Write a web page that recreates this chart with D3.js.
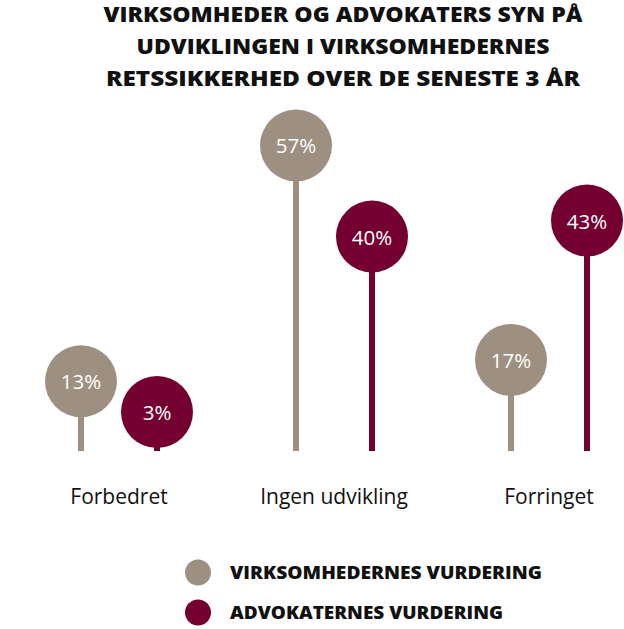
<!DOCTYPE html>
<html>
<head>
<meta charset="utf-8">
<script src="https://cdn.jsdelivr.net/npm/d3@7"></script>
<style>
  html, body { margin: 0; padding: 0; background: #fff; }
  svg { display: block; }
</style>
</head>
<body>
<script>
// ---- data ----
const titleLines = [
  "VIRKSOMHEDER OG ADVOKATERS SYN PÅ",
  "UDVIKLINGEN I VIRKSOMHEDERNES",
  "RETSSIKKERHED OVER DE SENESTE 3 ÅR"
];
const categories = ["Forbedret", "Ingen udvikling", "Forringet"];
const seriesNames = ["VIRKSOMHEDERNES VURDERING", "ADVOKATERNES VURDERING"];
const virksomheder = [13, 57, 17];
const advokater = [3, 40, 43];

// ---- layout ----
const W = 624, H = 629;
const colors = ["#9d9080", "#730030"];
const baseline = 451;
const R = 36;
const font = "'Open Sans', 'Noto Sans', sans-serif";

const svg = d3.select("body").append("svg").attr("width", W).attr("height", H);

// title
const titleWidths = [479, 413, 474];
const title = svg.append("g");
titleLines.forEach((t, i) => {
  title.append("text")
    .attr("x", 343).attr("y", 22 + i * 32)
    .attr("text-anchor", "middle")
    .attr("font-family", font)
    .attr("font-weight", 800)
    .attr("font-size", 21.5)
    .attr("textLength", titleWidths[i])
    .attr("lengthAdjust", "spacingAndGlyphs")
    .attr("fill", "#111")
    .text(t);
});

const x = d3.scaleBand().domain(categories).range([11.5, 656.5]).padding(0);
const sub = d3.scaleBand().domain(seriesNames).range([-76, 76]).padding(0);
const y = d3.scaleLinear().domain([0, 60]).range([baseline, baseline - 5.36 * 60]);

const data = [];
categories.forEach((c, i) => {
  data.push({ cat: c, s: 0, v: virksomheder[i] });
  data.push({ cat: c, s: 1, v: advokater[i] });
});
const cx = d => x(d.cat) + x.bandwidth() / 2 + sub(seriesNames[d.s]) + sub.bandwidth() / 2;
const cy = d => Math.min(y(d.v), baseline - R - 3);

const g = svg.append("g");
// stems
g.selectAll("rect.stem").data(data).join("rect")
  .attr("class", "stem")
  .attr("x", d => cx(d) - 3)
  .attr("width", 6)
  .attr("y", d => cy(d))
  .attr("height", d => baseline - cy(d))
  .attr("fill", d => colors[d.s]);
// circles
g.selectAll("circle.dot").data(data).join("circle")
  .attr("class", "dot")
  .attr("cx", cx).attr("cy", cy).attr("r", R)
  .attr("fill", d => colors[d.s]);
// value labels
g.selectAll("text.val").data(data).join("text")
  .attr("class", "val")
  .attr("x", cx).attr("y", d => cy(d) + 8)
  .attr("text-anchor", "middle")
  .attr("font-family", font)
  .attr("font-size", 20.5)
  .attr("fill", "#fff")
  .text(d => d.v + "%");

// category axis labels
const xAxis = d3.axisBottom(x).tickSize(0).tickPadding(0);
const ax = svg.append("g").attr("transform", `translate(0,${baseline})`).call(xAxis);
ax.select(".domain").remove();
ax.selectAll("text")
  .attr("y", 53)
  .attr("dy", null)
  .attr("font-family", font)
  .attr("font-size", 21)
  .attr("fill", "#111");

// legend
const legend = svg.append("g");
seriesNames.forEach((s, i) => {
  legend.append("circle")
    .attr("cx", 198).attr("cy", 572.5 + i * 40).attr("r", 13)
    .attr("fill", colors[i]);
  legend.append("text")
    .attr("x", 230).attr("y", 579 + i * 40)
    .attr("font-family", font)
    .attr("font-weight", 800)
    .attr("font-size", 18)
    .attr("textLength", i === 0 ? 312 : 273)
    .attr("lengthAdjust", "spacingAndGlyphs")
    .attr("fill", "#111")
    .text(s);
});
</script>
</body>
</html>
